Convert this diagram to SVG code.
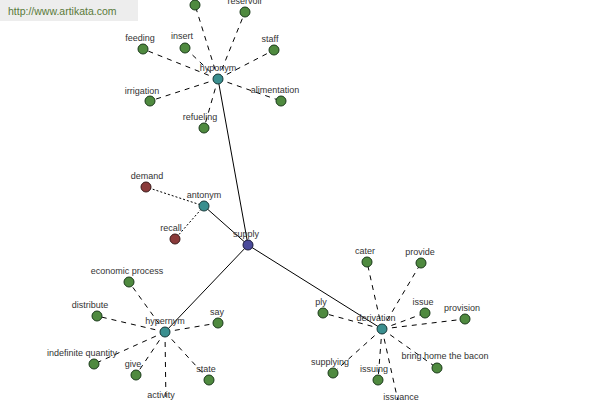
<svg xmlns="http://www.w3.org/2000/svg" width="600" height="400" viewBox="0 0 600 400">
<style>
text{font-family:"Liberation Sans",Arial,sans-serif;font-size:9px;fill:#333;text-anchor:middle}
.d{stroke:#000;stroke-width:1;stroke-dasharray:5,5;fill:none}
.o{stroke:#000;stroke-width:1;stroke-dasharray:2,2;fill:none}
.s{stroke:#000;stroke-width:1;fill:none}
circle{stroke:#1a3a1a;stroke-width:1}
.g{fill:#4f8a3f}
.t{fill:#3a8f8f;stroke:#1a3a3a}
.r{fill:#8a3a3a;stroke:#3a1a1a}
.b{fill:#4a4a9a;stroke:#1a1a3a}
</style>
<rect x="0" y="0" width="138" height="21" fill="#ededed"/>
<text x="8" y="15" style="text-anchor:start;font-size:10.5px;fill:#5a7a3a">http://www.artikata.com</text>
<g id="connectors">
<line class="s" x1="248" y1="245" x2="218" y2="79"/>
<line class="s" x1="248" y1="245" x2="204" y2="206"/>
<line class="s" x1="248" y1="245" x2="165" y2="332"/>
<line class="s" x1="248" y1="245" x2="382" y2="329"/>
<line class="d" x1="218" y1="79" x2="195" y2="5"/>
<line class="d" x1="218" y1="79" x2="245" y2="12"/>
<line class="d" x1="218" y1="79" x2="143" y2="49"/>
<line class="d" x1="218" y1="79" x2="185" y2="48"/>
<line class="d" x1="218" y1="79" x2="274" y2="50"/>
<line class="d" x1="218" y1="79" x2="150" y2="101"/>
<line class="d" x1="218" y1="79" x2="281" y2="101"/>
<line class="d" x1="218" y1="79" x2="204" y2="128"/>
<line class="o" x1="204" y1="206" x2="146" y2="187"/>
<line class="o" x1="204" y1="206" x2="175" y2="239"/>
<line class="d" x1="165" y1="332" x2="129" y2="282"/>
<line class="d" x1="165" y1="332" x2="97" y2="316"/>
<line class="d" x1="165" y1="332" x2="218" y2="323"/>
<line class="d" x1="165" y1="332" x2="94" y2="364"/>
<line class="d" x1="165" y1="332" x2="136" y2="375"/>
<line class="d" x1="165" y1="332" x2="209" y2="380"/>
<line class="d" x1="165" y1="332" x2="166" y2="406"/>
<line class="d" x1="382" y1="329" x2="367" y2="262"/>
<line class="d" x1="382" y1="329" x2="421" y2="263"/>
<line class="d" x1="382" y1="329" x2="323" y2="313"/>
<line class="d" x1="382" y1="329" x2="425" y2="313"/>
<line class="d" x1="382" y1="329" x2="465" y2="319"/>
<line class="d" x1="382" y1="329" x2="333" y2="373"/>
<line class="d" x1="382" y1="329" x2="378" y2="380"/>
<line class="d" x1="382" y1="329" x2="437" y2="368"/>
<line class="d" x1="382" y1="329" x2="400" y2="410"/>
</g>
<g id="n-top"><circle class="g" cx="195" cy="5" r="5"/></g>
<g id="n-reservoir"><circle class="g" cx="245" cy="12" r="5"/><text x="245" y="4">reservoir</text></g>
<g id="n-feeding"><circle class="g" cx="143" cy="49" r="5"/><text x="140" y="41">feeding</text></g>
<g id="n-insert"><circle class="g" cx="185" cy="48" r="5"/><text x="182" y="39">insert</text></g>
<g id="n-staff"><circle class="g" cx="274" cy="50" r="5"/><text x="270" y="42">staff</text></g>
<g id="n-irrigation"><circle class="g" cx="150" cy="101" r="5"/><text x="142" y="94">irrigation</text></g>
<g id="n-alimentation"><circle class="g" cx="281" cy="101" r="5"/><text x="275" y="93">alimentation</text></g>
<g id="n-refueling"><circle class="g" cx="204" cy="128" r="5"/><text x="200" y="120">refueling</text></g>
<g id="n-hyponym"><circle class="t" cx="218" cy="79" r="5"/><text x="218" y="71">hyponym</text></g>
<g id="n-demand"><circle class="r" cx="146" cy="187" r="5"/><text x="147" y="179">demand</text></g>
<g id="n-recall"><circle class="r" cx="175" cy="239" r="5"/><text x="171" y="231">recall</text></g>
<g id="n-antonym"><circle class="t" cx="204" cy="206" r="5"/><text x="204" y="198">antonym</text></g>
<g id="n-supply"><circle class="b" cx="248" cy="245" r="5"/><text x="246" y="237">supply</text></g>
<g id="n-economic"><circle class="g" cx="129" cy="282" r="5"/><text x="127" y="274">economic process</text></g>
<g id="n-distribute"><circle class="g" cx="97" cy="316" r="5"/><text x="90" y="308">distribute</text></g>
<g id="n-say"><circle class="g" cx="218" cy="323" r="5"/><text x="217" y="315">say</text></g>
<g id="n-indefinite"><circle class="g" cx="94" cy="364" r="5"/><text x="82" y="356">indefinite quantity</text></g>
<g id="n-give"><circle class="g" cx="136" cy="375" r="5"/><text x="133" y="367">give</text></g>
<g id="n-state"><circle class="g" cx="209" cy="380" r="5"/><text x="206" y="372">state</text></g>
<g id="n-activity"><circle class="g" cx="166" cy="406" r="5"/><text x="161" y="398">activity</text></g>
<g id="n-hypernym"><circle class="t" cx="165" cy="332" r="5"/><text x="165" y="324">hypernym</text></g>
<g id="n-cater"><circle class="g" cx="367" cy="262" r="5"/><text x="365" y="254">cater</text></g>
<g id="n-provide"><circle class="g" cx="421" cy="263" r="5"/><text x="420" y="255">provide</text></g>
<g id="n-ply"><circle class="g" cx="323" cy="313" r="5"/><text x="321" y="305">ply</text></g>
<g id="n-issue"><circle class="g" cx="425" cy="313" r="5"/><text x="423" y="305">issue</text></g>
<g id="n-provision"><circle class="g" cx="465" cy="319" r="5"/><text x="462" y="311">provision</text></g>
<g id="n-supplying"><circle class="g" cx="333" cy="373" r="5"/><text x="330" y="365">supplying</text></g>
<g id="n-issuing"><circle class="g" cx="378" cy="380" r="5"/><text x="374" y="372">issuing</text></g>
<g id="n-bacon"><circle class="g" cx="437" cy="368" r="5"/><text x="445" y="359">bring home the bacon</text></g>
<g id="n-issuance"><circle class="g" cx="400" cy="410" r="5"/><text x="401" y="400">issuance</text></g>
<g id="n-derivation"><circle class="t" cx="382" cy="329" r="5"/><text x="376" y="321">derivation</text></g>
</svg>
